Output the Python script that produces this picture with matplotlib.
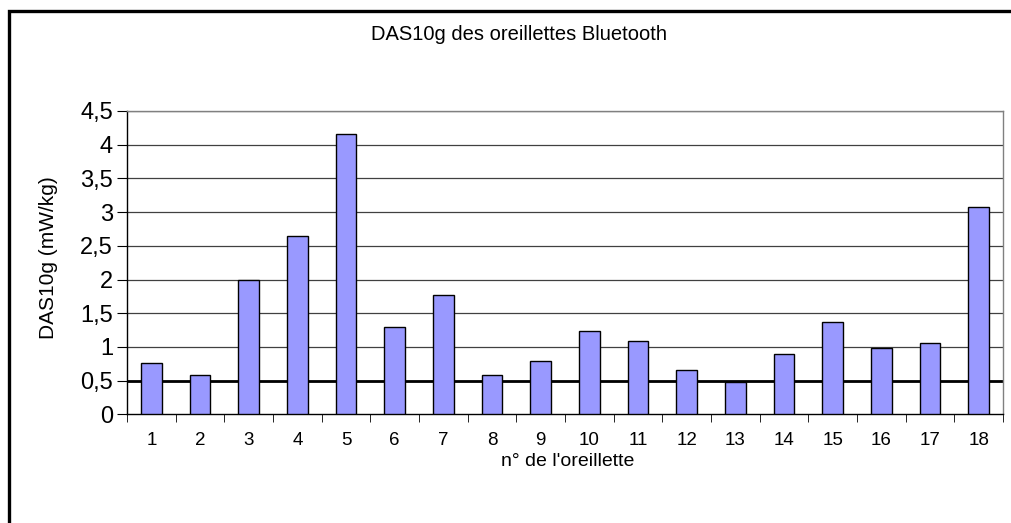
import matplotlib.pyplot as plt
import numpy as np
from matplotlib.patches import Rectangle

plt.rcParams["font.family"] = ["Liberation Sans", "DejaVu Sans"]

oreillettes = [str(i) for i in range(1, 19)]
das10g = [0.76, 0.59, 2.00, 2.64, 4.16, 1.29, 1.77, 0.59, 0.79,
          1.23, 1.09, 0.65, 0.48, 0.90, 1.37, 0.99, 1.06, 3.07]
seuil = 0.5
yticks = [0, 0.5, 1, 1.5, 2, 2.5, 3, 3.5, 4, 4.5]
ytick_labels = ["0", "0,5", "1", "1,5", "2", "2,5", "3", "3,5", "4", "4,5"]

W, H = 1012, 523
fig = plt.figure(figsize=(W / 100, H / 100), dpi=100)
ax = fig.add_axes([127 / W, (H - 414.3) / H, 876 / W, 303.3 / H])

# outer chart border (right/bottom cropped off)
fig.patches.append(Rectangle((9.5 / W, -0.05), 1.1, (H - 10.5) / H + 0.05,
                             transform=fig.transFigure, fill=False,
                             edgecolor="black", linewidth=2.4))

x = np.arange(len(das10g))
ax.bar(x, das10g, width=0.43, color="#9999ff", edgecolor="black", linewidth=1.0, zorder=3)

for y in yticks[1:]:
    ax.axhline(y, color="#404040", linewidth=0.9, zorder=1)
ax.axhline(seuil, color="black", linewidth=2.0, zorder=2)

ax.set_xlim(-0.5, len(das10g) - 0.5)
ax.set_ylim(0, 4.5)
ax.set_yticks(yticks)
ax.set_yticklabels(ytick_labels, fontsize=17)
ax.set_xticks(x)
ax.set_xticklabels(oreillettes, fontsize=13.5)
ax.set_xticks(np.arange(-0.5, len(das10g)), minor=True)
ax.tick_params(axis="x", which="major", length=0, pad=13)
ax.tick_params(axis="x", which="minor", length=6, direction="out", color="black")
ax.tick_params(axis="y", length=7, direction="out", pad=3)

for side in ("top", "right"):
    ax.spines[side].set_color("#808080")
    ax.spines[side].set_linewidth(1.0)
for side in ("left", "bottom"):
    ax.spines[side].set_color("black")
    ax.spines[side].set_linewidth(1.0)

fig.text(519 / W, 1 - 35 / H, "DAS10g des oreillettes Bluetooth", fontsize=14.5,
         ha="center", va="center")
fig.text(568 / W, 1 - 466 / H, "n° de l'oreillette", fontsize=14,
         ha="center", va="baseline")
fig.text(49 / W, 1 - 258 / H, "DAS10g (mW/kg)", fontsize=15, rotation=90,
         ha="center", va="center")

fig.savefig("out.png", dpi=100)
